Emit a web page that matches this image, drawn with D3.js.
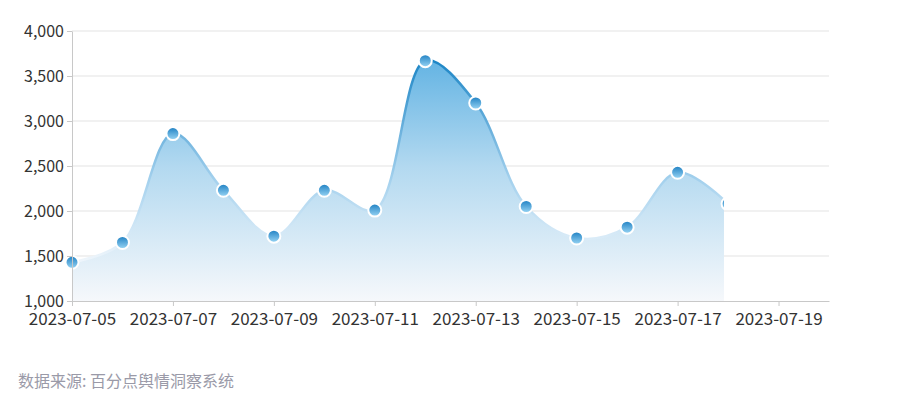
<!DOCTYPE html>
<html>
<head>
<meta charset="utf-8">
<script src="https://cdn.jsdelivr.net/npm/d3@7/dist/d3.min.js"></script>
<style>
  body { margin: 0; background: #fff; }
  text { font-family: "Noto Sans CJK SC", "Noto Sans", sans-serif; }
</style>
</head>
<body>
<div id="chart"></div>
<script>
var dates = ["2023-07-05", "2023-07-06", "2023-07-07", "2023-07-08", "2023-07-09", "2023-07-10", "2023-07-11",
	"2023-07-12", "2023-07-13", "2023-07-14", "2023-07-15", "2023-07-16", "2023-07-17", "2023-07-18"];
var counts = [1430, 1650, 2860, 2230, 1720, 2230, 2010, 3670, 3200, 2050, 1700, 1820, 2430, 2080];
var yTicks = [1000, 1500, 2000, 2500, 3000, 3500, 4000];
var xTicks = ["2023-07-05", "2023-07-07", "2023-07-09", "2023-07-11", "2023-07-13", "2023-07-15", "2023-07-17", "2023-07-19"];
var source = "数据来源: 百分点舆情洞察系统";

var W = 900, H = 420;
var margin = { top: 31, right: 71, bottom: 119, left: 72 };

var parse = d3.timeParse("%Y-%m-%d");
var data = dates.map((d, i) => ({ date: parse(d), value: counts[i] }));

var svg = d3.select("#chart").append("svg")
	.attr("width", W)
	.attr("height", H);

var x = d3.scaleTime()
	.domain([parse("2023-07-05"), parse("2023-07-20")])
	.range([margin.left, W - margin.right]);

var y = d3.scaleLinear()
	.domain([1000, 4000])
	.range([H - margin.bottom, margin.top]);

var defs = svg.append("defs");

// area fill, vertical
var ag = defs.append("linearGradient")
	.attr("id", "areaGrad")
	.attr("gradientUnits", "userSpaceOnUse")
	.attr("x1", 0).attr("x2", 0)
	.attr("y1", y(3700)).attr("y2", y(1000));
ag.append("stop").attr("offset", "0%").attr("stop-color", "#62b3e3");
ag.append("stop").attr("offset", "45%").attr("stop-color", "#b3d9f0");
ag.append("stop").attr("offset", "100%").attr("stop-color", "#f6f8fb");

// line stroke, vertical
var lg = defs.append("linearGradient")
	.attr("id", "lineGrad")
	.attr("gradientUnits", "userSpaceOnUse")
	.attr("x1", 0).attr("x2", 0)
	.attr("y1", y(3700)).attr("y2", y(1400));
lg.append("stop").attr("offset", "0%").attr("stop-color", "#1a84c5");
lg.append("stop").attr("offset", "60%").attr("stop-color", "#a6d2ee");
lg.append("stop").attr("offset", "100%").attr("stop-color", "#f2f7fc");

// marker fill
var mg = defs.append("linearGradient")
	.attr("id", "dotGrad")
	.attr("x1", 0).attr("x2", 0).attr("y1", 0).attr("y2", 1);
mg.append("stop").attr("offset", "0%").attr("stop-color", "#1d7fc2");
mg.append("stop").attr("offset", "100%").attr("stop-color", "#9ad6f5");

defs.append("clipPath").attr("id", "clip")
	.append("rect")
	.attr("x", 0).attr("y", 0)
	.attr("width", 724).attr("height", H);

// grid
svg.append("g")
	.selectAll("line")
	.data(yTicks.slice(1))
	.join("line")
	.attr("x1", margin.left).attr("x2", W - margin.right)
	.attr("y1", d => y(d)).attr("y2", d => y(d))
	.attr("stroke", "#e3e3e3")
	.attr("stroke-width", 1);

var curve = d3.curveCatmullRom.alpha(0.5);

var area = d3.area()
	.x(d => x(d.date))
	.y0(y(1000))
	.y1(d => y(d.value))
	.curve(curve);

var line = d3.line()
	.x(d => x(d.date))
	.y(d => y(d.value))
	.curve(curve);

var series = svg.append("g").attr("clip-path", "url(#clip)");

series.append("path")
	.datum(data)
	.attr("d", area)
	.attr("fill", "url(#areaGrad)");

series.append("path")
	.datum(data)
	.attr("d", line)
	.attr("fill", "none")
	.attr("stroke", "url(#lineGrad)")
	.attr("stroke-width", 2.5);

// axes
var yAxis = g => g
	.attr("transform", `translate(${margin.left},0)`)
	.call(d3.axisLeft(y).tickValues(yTicks).tickFormat(d3.format(",")).tickSize(5).tickPadding(3).tickSizeOuter(0))
	.call(g => g.select(".domain").attr("stroke", "#c8c8c8"))
	.call(g => g.selectAll(".tick line").attr("stroke", "#c8c8c8"))
	.call(g => g.selectAll("text").attr("fill", "#333").style("font-size", "16px"));

var xAxis = g => g
	.attr("transform", `translate(0,${y(1000)})`)
	.call(d3.axisBottom(x).tickValues(xTicks.map(parse)).tickFormat(d3.timeFormat("%Y-%m-%d")).tickSize(5).tickPadding(7).tickSizeOuter(0))
	.call(g => g.select(".domain").attr("stroke", "#c8c8c8"))
	.call(g => g.selectAll(".tick line").attr("stroke", "#c8c8c8"))
	.call(g => g.selectAll("text").attr("fill", "#333").style("font-size", "17px"));

svg.append("g").call(xAxis);
svg.append("g").call(yAxis);

// markers
series.append("g")
	.selectAll("circle")
	.data(data)
	.join("circle")
	.attr("cx", d => x(d.date))
	.attr("cy", d => y(d.value))
	.attr("r", 6.5)
	.attr("fill", "url(#dotGrad)")
	.attr("stroke", "#fff")
	.attr("stroke-width", 2);

svg.append("text")
	.attr("x", 18)
	.attr("y", 387)
	.attr("fill", "#9a9aa8")
	.style("font-size", "16px")
	.text(source);
</script>
</body>
</html>
